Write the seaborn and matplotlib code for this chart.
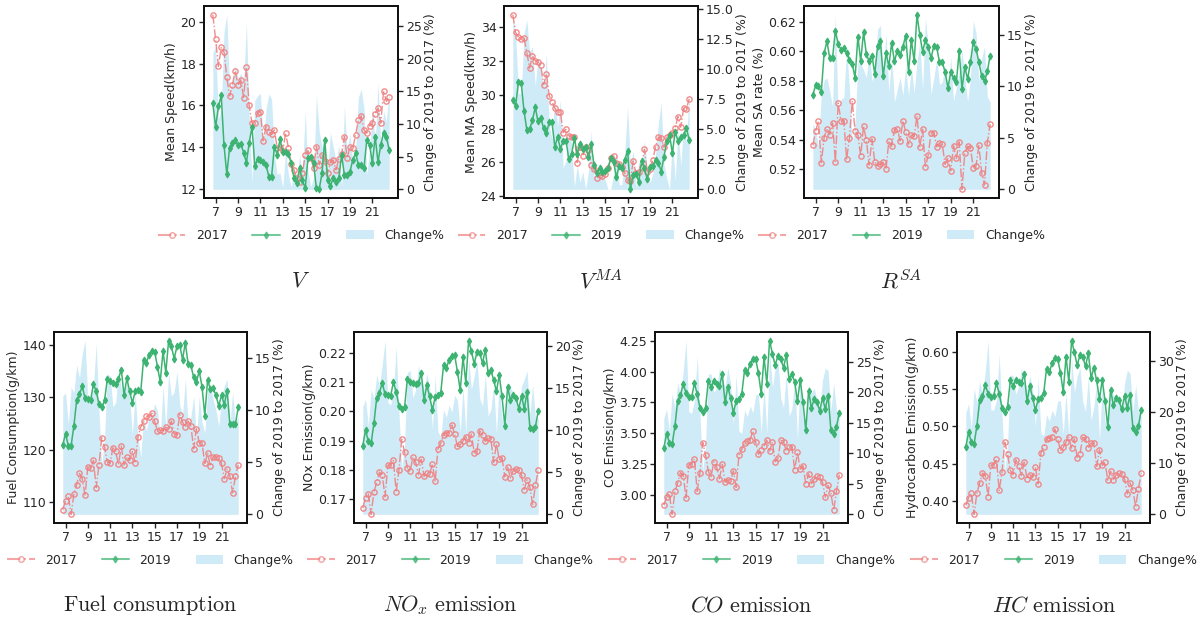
import numpy as np
import matplotlib
matplotlib.use("Agg")
import matplotlib.pyplot as plt
import seaborn as sns
from matplotlib.patches import Patch
from matplotlib.lines import Line2D

sns.set_style("ticks")
plt.rcParams["font.family"] = ["DejaVu Sans"]
plt.rcParams["mathtext.fontset"] = "cm"
plt.rcParams["font.size"] = 9
plt.rcParams["axes.linewidth"] = 1.3
plt.rcParams["axes.edgecolor"] = "#111111"

# Time of day in hours, one sample every 15 minutes from 6:45 to 22:30
start_hour, step_hour, n_steps = 6.75, 0.25, 64
hours = start_hour + step_hour * np.arange(n_steps)
hour_ticks = [7, 9, 11, 13, 15, 17, 19, 21]

# ---- mean speed (km/h)
speed_2017 = [20.35, 19.18, 17.87, 18.78, 18.56, 17.34, 16.46, 16.99, 17.66, 16.96,
              17.23, 16.38, 17.82, 16.0, 15.15, 15.17, 15.66, 15.70, 14.30, 14.99,
              14.74, 14.61, 14.83, 13.95, 14.03, 13.82, 14.67, 13.98, 13.18, 12.91,
              12.5, 12.35, 12.75, 13.63, 13.84, 13.47, 12.99, 14.03, 13.15, 13.63,
              13.34, 12.75, 13.3, 13.39, 12.91, 13.42, 13.68, 14.51, 13.47, 14.03,
              13.95, 14.58, 15.31, 15.5, 14.83, 14.67, 15.02, 15.18, 15.6, 15.87,
              15.15, 16.70, 16.19, 16.4]
speed_2019 = [16.1, 14.96, 15.95, 16.48, 14.08, 12.7, 13.98, 14.19, 14.32, 14.08,
              14.16, 13.74, 13.26, 14.22, 14.99, 13.1, 13.42, 13.39, 13.31, 13.15,
              12.59, 12.59, 14.03, 13.63, 14.38, 13.79, 13.78, 13.68, 13.23, 12.51,
              12.27, 12.99, 12.43, 12.02, 13.47, 13.52, 13.23, 12.02, 11.98, 12.75,
              14.35, 12.43, 12.14, 12.51, 12.35, 12.51, 13.63, 12.67, 12.67, 12.83,
              13.39, 13.71, 13.15, 13.12, 12.99, 14.35, 14.11, 13.23, 14.51, 13.28,
              14.11, 14.7, 14.51, 13.84]

# ---- mean moving-average speed (km/h)
ma_speed_2017 = [34.75, 33.7, 33.43, 33.33, 33.37, 32.51, 31.58, 32.32, 32.02, 31.94,
                 31.74, 30.6, 31.25, 29.96, 29.6, 29.2, 29.0, 28.97, 27.76, 27.96,
                 27.58, 27.52, 27.49, 25.98, 26.93, 26.38, 26.93, 26.73, 25.84, 25.58,
                 25.05, 25.25, 25.19, 25.3, 25.64, 26.24, 26.38, 25.94, 25.9, 25.74,
                 25.35, 24.95, 24.91, 26.08, 25.35, 25.45, 25.74, 26.77, 25.45, 25.6,
                 26.14, 26.93, 27.49, 27.43, 26.89, 27.52, 27.62, 27.72, 28.02, 28.71,
                 28.08, 29.2, 29.15, 29.76]
ma_speed_2019 = [29.7, 29.35, 30.75, 30.69, 29.05, 27.92, 27.98, 28.48, 29.27, 28.42,
                 28.61, 28.02, 27.72, 28.36, 28.36, 26.93, 27.49, 26.81, 27.27, 27.29,
                 26.18, 26.48, 27.43, 26.5, 27.09, 26.77, 26.93, 26.34, 27.09, 25.86,
                 25.35, 25.64, 25.45, 25.5, 25.64, 26.24, 26.04, 25.11, 25.8, 25.64,
                 26.14, 26.67, 24.4, 25.25, 25.31, 24.85, 26.08, 25.68, 25.01, 25.74,
                 25.8, 26.14, 25.98, 25.45, 26.34, 27.27, 27.62, 26.53, 27.82, 27.27,
                 27.52, 27.62, 28.02, 27.33]

# ---- mean speed-acceleration rate
sa_rate_2017 = [0.5362, 0.5457, 0.5527, 0.5243, 0.5414, 0.5475, 0.5434, 0.5513, 0.525, 0.5648,
                0.5527, 0.5527, 0.5265, 0.5414, 0.5662, 0.5459, 0.543, 0.5288, 0.5491, 0.5396,
                0.5227, 0.5403, 0.525, 0.5223, 0.5234, 0.5245, 0.52, 0.5391, 0.5355, 0.5468,
                0.5475, 0.5391, 0.5527, 0.5452, 0.5369, 0.543, 0.5423, 0.556, 0.5351, 0.547,
                0.5211, 0.5295, 0.5448, 0.5448, 0.5351, 0.5378, 0.5367, 0.5232, 0.5272, 0.5189,
                0.5358, 0.5272, 0.5385, 0.5063, 0.531, 0.5355, 0.5344, 0.5209, 0.5223, 0.536,
                0.5175, 0.5092, 0.538, 0.5504]
sa_rate_2019 = [0.5705, 0.5768, 0.5761, 0.5723, 0.5986, 0.6067, 0.5952, 0.5955, 0.6139, 0.6049,
                0.6009, 0.602, 0.5988, 0.5943, 0.5914, 0.5819, 0.6099, 0.5932, 0.6128, 0.5982,
                0.593, 0.597, 0.5846, 0.6033, 0.6067, 0.5831, 0.5986, 0.5898, 0.6054, 0.593,
                0.6004, 0.5977, 0.6031, 0.6105, 0.5858, 0.6078, 0.593, 0.6247, 0.611, 0.5997,
                0.6076, 0.6027, 0.5952, 0.6038, 0.6027, 0.5925, 0.5925, 0.5858, 0.5752, 0.5858,
                0.5817, 0.579, 0.6, 0.5745, 0.5891, 0.581, 0.5925, 0.606, 0.6015, 0.5925,
                0.5831, 0.5797, 0.5862, 0.597]

# ---- fuel consumption (g/km)
fuel_2017 = [108.6, 110.3, 111.1, 107.7, 111.6, 113.3, 115.5, 114.5, 111.3, 116.8,
             116.6, 118.0, 112.8, 117.1, 122.3, 120.5, 117.7, 117.5, 120.4, 119.7,
             117.2, 120.7, 117.1, 118.7, 118.0, 119.7, 117.5, 122.4, 124.3, 125.5,
             126.5, 126.2, 127.0, 125.4, 123.6, 123.8, 123.6, 124.3, 124.0, 125.5,
             123.0, 122.9, 126.7, 125.3, 124.3, 125.5, 124.5, 120.2, 124.0, 121.3,
             121.3, 117.4, 119.3, 116.9, 118.7, 118.6, 118.4, 117.4, 114.5, 116.3,
             115.0, 111.8, 115.0, 117.1]
fuel_2019 = [120.9, 123.1, 120.7, 120.8, 124.6, 129.5, 130.6, 132.1, 129.8, 129.7,
             129.5, 132.5, 131.2, 128.7, 128.1, 129.4, 133.5, 133.1, 132.8, 132.5,
             133.5, 135.3, 130.4, 133.6, 131.2, 128.9, 131.2, 131.4, 131.1, 137.2,
             136.6, 138.1, 138.9, 138.7, 135.8, 133.0, 138.8, 134.7, 140.8, 139.7,
             137.4, 139.7, 140.0, 137.2, 140.4, 136.4, 136.1, 133.8, 133.0, 135.0,
             132.0, 126.5, 133.3, 131.5, 131.7, 130.4, 128.4, 130.4, 128.6, 131.3,
             124.9, 124.9, 124.9, 128.1]

# ---- NOx emission (g/km)
nox_2017 = [0.1669, 0.1703, 0.1717, 0.1647, 0.1723, 0.1757, 0.1792, 0.1781, 0.1707, 0.1815,
            0.1817, 0.1832, 0.1724, 0.18, 0.1905, 0.186, 0.1806, 0.1794, 0.1844, 0.1825,
            0.1783, 0.1836, 0.1777, 0.179, 0.1785, 0.182, 0.176, 0.1872, 0.1891, 0.1919,
            0.1927, 0.1927, 0.1953, 0.1922, 0.188, 0.1888, 0.1899, 0.1914, 0.1891, 0.1922,
            0.1859, 0.1863, 0.1934, 0.1919, 0.1897, 0.191, 0.1906, 0.1825, 0.1889, 0.1836,
            0.1842, 0.1775, 0.1809, 0.1772, 0.1797, 0.1803, 0.1799, 0.1781, 0.1732, 0.1766,
            0.174, 0.1681, 0.1747, 0.1798]
nox_2019 = [0.1882, 0.1936, 0.1897, 0.1891, 0.1959, 0.2047, 0.2065, 0.2098, 0.2059, 0.2056,
            0.2053, 0.2101, 0.2067, 0.2018, 0.2008, 0.2014, 0.211, 0.2101, 0.2099, 0.2095,
            0.2098, 0.2133, 0.2039, 0.209, 0.2052, 0.2005, 0.205, 0.2056, 0.2064, 0.2158,
            0.2149, 0.2177, 0.219, 0.2194, 0.2135, 0.2073, 0.2186, 0.2098, 0.2243, 0.2207,
            0.2164, 0.2203, 0.22, 0.2166, 0.2212, 0.2133, 0.2143, 0.2107, 0.207, 0.2124,
            0.2052, 0.1951, 0.2084, 0.2039, 0.2056, 0.2047, 0.201, 0.2052, 0.201, 0.2067,
            0.1945, 0.194, 0.1948, 0.2002]

# ---- CO emission (g/km)
co_2017 = [2.919, 2.983, 3.013, 2.845, 3.031, 3.098, 3.183, 3.159, 2.978, 3.245,
           3.253, 3.293, 3.031, 3.183, 3.426, 3.325, 3.191, 3.151, 3.271, 3.226,
           3.133, 3.25, 3.106, 3.125, 3.117, 3.197, 3.063, 3.325, 3.37, 3.426,
           3.439, 3.45, 3.517, 3.431, 3.33, 3.365, 3.399, 3.445, 3.357, 3.431,
           3.271, 3.298, 3.445, 3.431, 3.359, 3.391, 3.391, 3.205, 3.346, 3.21,
           3.239, 3.09, 3.173, 3.093, 3.13, 3.159, 3.143, 3.103, 2.983, 3.079,
           3.018, 2.879, 3.031, 3.165]
co_2019 = [3.378, 3.498, 3.426, 3.41, 3.557, 3.765, 3.81, 3.903, 3.826, 3.791,
           3.791, 3.906, 3.818, 3.706, 3.671, 3.706, 3.925, 3.877, 3.925, 3.898,
           3.885, 3.978, 3.751, 3.877, 3.786, 3.666, 3.765, 3.778, 3.818, 4.01,
           3.991, 4.063, 4.103, 4.103, 3.986, 3.818, 4.117, 3.903, 4.25, 4.146,
           4.05, 4.13, 4.103, 4.031, 4.138, 3.938, 3.978, 3.919, 3.759, 3.933,
           3.751, 3.525, 3.845, 3.706, 3.778, 3.751, 3.685, 3.786, 3.698, 3.805,
           3.53, 3.498, 3.551, 3.666]

# ---- hydrocarbon emission (g/km)
hc_2017 = [0.3942, 0.4044, 0.4102, 0.3823, 0.4111, 0.4243, 0.4376, 0.4341, 0.4058, 0.4478,
           0.4487, 0.4562, 0.4142, 0.4389, 0.4788, 0.4628, 0.4412, 0.4354, 0.4553, 0.4473,
           0.4341, 0.4522, 0.4296, 0.4354, 0.4319, 0.4451, 0.423, 0.465, 0.4721, 0.4827,
           0.4841, 0.4854, 0.4965, 0.4832, 0.4677, 0.4717, 0.4788, 0.4854, 0.4708, 0.4836,
           0.4575, 0.4628, 0.4854, 0.4832, 0.4708, 0.4774, 0.4774, 0.4465, 0.4686, 0.4478,
           0.4518, 0.4279, 0.4398, 0.4288, 0.4354, 0.4376, 0.4363, 0.4301, 0.4097, 0.4243,
           0.4146, 0.3925, 0.4164, 0.4376]
hc_2019 = [0.4721, 0.492, 0.4788, 0.4765, 0.5009, 0.535, 0.5403, 0.5558, 0.5438, 0.5394,
           0.5403, 0.558, 0.5438, 0.5252, 0.5195, 0.5261, 0.5615, 0.554, 0.5624, 0.5593,
           0.5584, 0.5704, 0.5336, 0.5535, 0.5385, 0.5217, 0.5363, 0.5385, 0.5451, 0.577,
           0.5726, 0.5845, 0.5916, 0.5903, 0.5717, 0.546, 0.5934, 0.5593, 0.6146, 0.5991,
           0.5814, 0.5956, 0.5925, 0.5805, 0.5978, 0.565, 0.5783, 0.5615, 0.5363, 0.5624,
           0.5341, 0.4987, 0.5491, 0.5283, 0.5381, 0.535, 0.5226, 0.5403, 0.5252, 0.5416,
           0.4982, 0.492, 0.5004, 0.5217]

panel_ylabels = ["Mean Speed(km/h)", "Mean MA Speed(km/h)", "Mean SA rate (%)",
                 "Fuel Consumption(g/km)", "NOx Emission(g/km)", "CO Emission(g/km)",
                 "Hydrocarbon Emission(g/km)"]
panel_titles = [r"$V$", r"$V^{MA}$", r"$R^{SA}$",
                r"$\mathrm{Fuel\ consumption}$", r"$NO_x\ \mathrm{emission}$",
                r"$CO\ \mathrm{emission}$", r"$HC\ \mathrm{emission}$"]
series_labels = ["2017", "2019", "Change%"]
right_label = "Change of 2019 to 2017 (%)"

RED = "#f08080"
GREEN = "#3cb371"
AREA = "skyblue"
FS = 9

W, H = 1203, 623
fig = plt.figure(figsize=(W / 100, H / 100), dpi=100)


def px_rect(left, top, width, height):
    return [left / W, 1 - (top + height) / H, width / W, height / H]


rects = [px_rect(204, 6, 194, 192), px_rect(504, 6, 194, 192), px_rect(804, 6, 195, 192),
         px_rect(54, 332, 193, 191), px_rect(354, 332, 193, 191),
         px_rect(655, 332, 193, 191), px_rect(957, 332, 193, 191)]

series = [(speed_2017, speed_2019), (ma_speed_2017, ma_speed_2019),
          (sa_rate_2017, sa_rate_2019), (fuel_2017, fuel_2019),
          (nox_2017, nox_2019), (co_2017, co_2019), (hc_2017, hc_2019)]

for rect, ylab, title, (v17, v19) in zip(rects, panel_ylabels, panel_titles, series):
    ax = fig.add_axes(rect)
    ax2 = ax.twinx()
    a17 = np.asarray(v17)
    a19 = np.asarray(v19)
    change = np.abs(a19 - a17) / a17 * 100

    # relative change drawn as a shaded area on the right-hand axis
    ax2.fill_between(hours, 0, change, color=AREA, alpha=0.4, lw=0)
    sns.lineplot(x=hours, y=a17, ax=ax, color=RED, linestyle="-.", lw=1.0,
                 marker="o", markersize=3.8, markerfacecolor="none",
                 markeredgecolor=RED, markeredgewidth=1.0, errorbar=None, alpha=0.9)
    sns.lineplot(x=hours, y=a19, ax=ax, color=GREEN, linestyle="-", lw=1.1,
                 marker="d", markersize=3.5, markerfacecolor=GREEN,
                 markeredgecolor=GREEN, markeredgewidth=0.8, errorbar=None)

    # keep the two yearly curves above the shaded area
    ax.set_zorder(ax2.get_zorder() + 1)
    ax.patch.set_visible(False)
    ax.set_xticks(hour_ticks)
    ax.set_ylabel(ylab, fontsize=FS, labelpad=2)
    ax2.set_ylabel(right_label, fontsize=FS, labelpad=2)
    ax.tick_params(labelsize=FS, length=3.5, width=1, pad=2)
    ax2.tick_params(labelsize=FS, length=3.5, width=1, pad=2)
    for sp in ax2.spines.values():
        sp.set_linewidth(1.3)
        sp.set_edgecolor("#111111")

    handles = [Line2D([], [], color=RED, linestyle="-.", lw=1.5, marker="o", markersize=4,
                      markerfacecolor="none", markeredgecolor=RED, alpha=0.7),
               Line2D([], [], color=GREEN, linestyle="-", lw=1.5, marker="d", markersize=3.5,
                      markerfacecolor=GREEN, markeredgecolor=GREEN, alpha=0.7),
               Patch(facecolor=AREA, alpha=0.4, lw=0)]
    ax.legend(handles, series_labels, ncol=3, frameon=False, loc="center",
              bbox_to_anchor=(0.5, -0.195), fontsize=FS, handlelength=2.2,
              handletextpad=0.85, columnspacing=1.95)
    ax.text(0.5, -0.43, title, transform=ax.transAxes, ha="center", va="center",
            fontsize=16)

fig.savefig("out.png", dpi=100)
